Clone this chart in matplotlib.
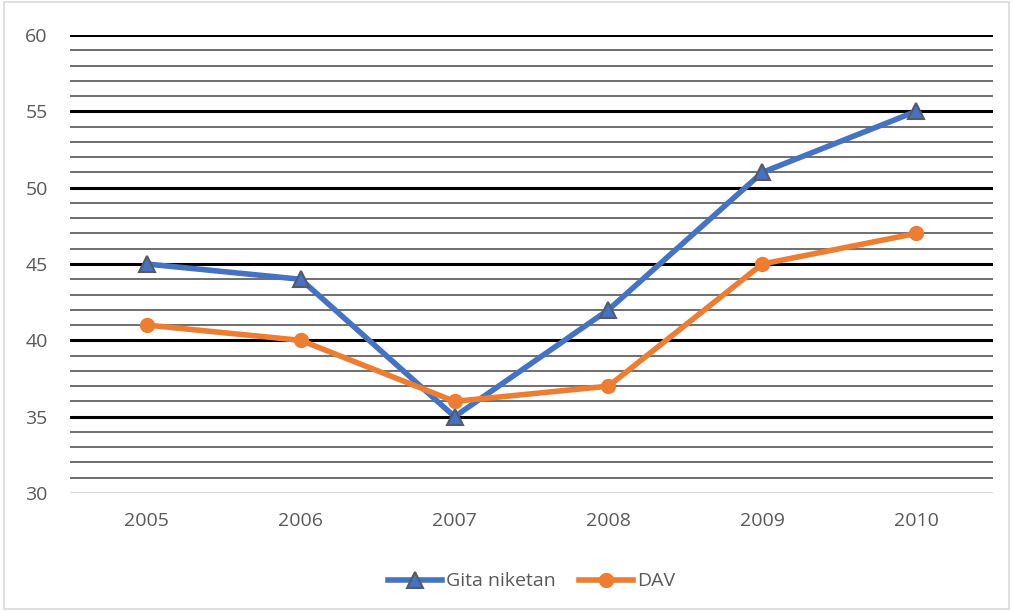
import matplotlib.pyplot as plt
from matplotlib.ticker import MultipleLocator

years = ['2005', '2006', '2007', '2008', '2009', '2010']
gita = [45, 44, 35, 42, 51, 55]
dav = [41, 40, 36, 37, 45, 47]

plt.rcParams['font.family'] = ['Open Sans', 'DejaVu Sans']

fig = plt.figure(figsize=(10.13, 6.11), dpi=100)
ax = fig.add_axes([0.0691, 0.1931, 0.9112, 0.7496])

x = list(range(len(years)))
ax.plot(x, gita, color='#4472c4', lw=4, marker='^', ms=11,
        markerfacecolor='#4472c4', markeredgecolor='#555a66', markeredgewidth=1.5,
        label='Gita niketan', zorder=3)
ax.plot(x, dav, color='#ed7d31', lw=4, marker='o', ms=10,
        markerfacecolor='#ed7d31', markeredgecolor='#ed7d31',
        label='DAV', zorder=3)

ax.set_xlim(-0.5, 5.5)
ax.set_ylim(30, 60)
ax.set_xticks(x)
ax.set_xticklabels(years)
ax.yaxis.set_major_locator(MultipleLocator(5))
ax.yaxis.set_minor_locator(MultipleLocator(1))

# gridlines: thick black majors, grey minors
for v in range(31, 61):
    if v % 5 == 0:
        ax.axhline(v, color='black', lw=2.2, zorder=1)
    else:
        ax.axhline(v, color='#6e6e6e', lw=1.4, zorder=1)
ax.axhline(30, color='#d9d9d9', lw=1.4, zorder=1)

for s in ax.spines.values():
    s.set_visible(False)
ax.tick_params(axis='both', which='both', length=0, labelsize=14, colors='#595959')
ax.tick_params(axis='y', pad=16)
ax.tick_params(axis='x', pad=14)

leg = ax.legend(loc='upper center', bbox_to_anchor=(0.5, -0.135), ncol=2,
                frameon=False, fontsize=14, handlelength=2.8, columnspacing=1.2,
                handletextpad=0.2)
for t in leg.get_texts():
    t.set_color('#595959')

fig.patches.append(plt.Rectangle((0.004, 0.004), 0.992, 0.992, transform=fig.transFigure,
                                 fill=False, edgecolor='#d9d9d9', lw=1.2))

fig.savefig('out.png', dpi=100)
